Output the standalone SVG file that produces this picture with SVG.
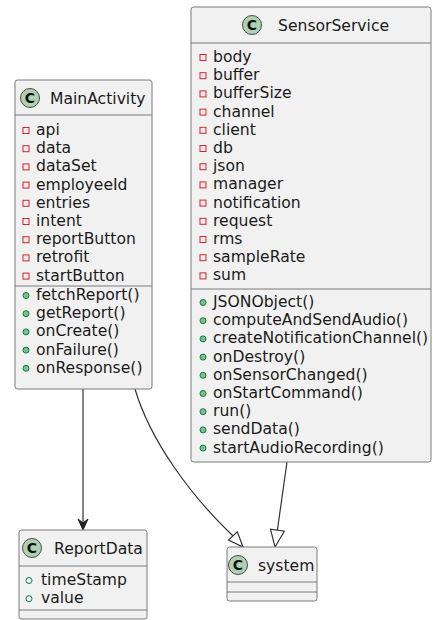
<svg xmlns="http://www.w3.org/2000/svg" width="433" height="620" viewBox="0 0 433 620">
<style>
.box{fill:#F1F1F1;stroke:#7a7a7a;stroke-width:1}
.sep{stroke:#7a7a7a;stroke-width:1}
text{font-family:"DejaVu Sans","Liberation Sans",sans-serif;font-size:15.6px;fill:#1a1a1a}
.ttl{font-size:15.6px}
.ci{fill:#ADD1B2;stroke:#4a4a4a;stroke-width:1}
.cl{font-family:"DejaVu Sans","Liberation Sans",sans-serif;font-size:14px;font-weight:bold;fill:#111}
.pr{fill:#f8e8e8;stroke:#C82930;stroke-width:1}
.pm{fill:#84BE84;stroke:#038048;stroke-width:1}
.pf{fill:none;stroke:#038048;stroke-width:1}
.edge{fill:none;stroke:#333;stroke-width:1.2}
</style>

<g id="connectors">
<path class="edge" d="M83,389 L83,527"/>
<path d="M83,530 L78,519 L83,523 L88,519 Z" fill="#222" stroke="#222" stroke-width="1"/>
<path class="edge" d="M135,389 C150,440 190,495 233,536"/>
<path d="M243,547 L237.3,531.8 L228.5,540 Z" fill="#fff" stroke="#333" stroke-width="1.2"/>
<path class="edge" d="M287,462 L277.4,530"/>
<path d="M275,547 L284.3,531.2 L270.5,529.2 Z" fill="#fff" stroke="#333" stroke-width="1.2"/>
</g>

<g id="MainActivity">
<rect class="box" x="15" y="80" width="137" height="309" rx="2.5"/>
<line class="sep" x1="15" y1="115" x2="152" y2="115"/>
<line class="sep" x1="15" y1="286" x2="152" y2="286"/>
<circle class="ci" cx="30" cy="98" r="9.5"/>
<text class="cl" x="30" y="103" text-anchor="middle">C</text>
<text class="ttl" x="50" y="103.5">MainActivity</text>
<rect class="pr" x="23" y="127.5" width="6" height="6"/><text x="36" y="135">api</text>
<rect class="pr" x="23" y="145.7" width="6" height="6"/><text x="36" y="153.2">data</text>
<rect class="pr" x="23" y="163.9" width="6" height="6"/><text x="36" y="171.4">dataSet</text>
<rect class="pr" x="23" y="182.1" width="6" height="6"/><text x="36" y="189.6">employeeId</text>
<rect class="pr" x="23" y="200.3" width="6" height="6"/><text x="36" y="207.8">entries</text>
<rect class="pr" x="23" y="218.5" width="6" height="6"/><text x="36" y="226">intent</text>
<rect class="pr" x="23" y="236.7" width="6" height="6"/><text x="36" y="244.2">reportButton</text>
<rect class="pr" x="23" y="254.9" width="6" height="6"/><text x="36" y="262.4">retrofit</text>
<rect class="pr" x="23" y="273.1" width="6" height="6"/><text x="36" y="280.6">startButton</text>
<circle class="pm" cx="26" cy="295.5" r="3"/><text x="36" y="300">fetchReport()</text>
<circle class="pm" cx="26" cy="313.7" r="3"/><text x="36" y="318.2">getReport()</text>
<circle class="pm" cx="26" cy="331.9" r="3"/><text x="36" y="336.4">onCreate()</text>
<circle class="pm" cx="26" cy="350.1" r="3"/><text x="36" y="354.6">onFailure()</text>
<circle class="pm" cx="26" cy="368.3" r="3"/><text x="36" y="372.8">onResponse()</text>
</g>

<g id="SensorService">
<rect class="box" x="191" y="7" width="240" height="455" rx="2.5"/>
<line class="sep" x1="191" y1="43" x2="431" y2="43"/>
<line class="sep" x1="191" y1="289" x2="431" y2="289"/>
<circle class="ci" cx="252" cy="25" r="9.5"/>
<text class="cl" x="252" y="30" text-anchor="middle">C</text>
<text class="ttl" x="278" y="30.5">SensorService</text>
<rect class="pr" x="200" y="54.5" width="6" height="6"/><text x="213" y="62">body</text>
<rect class="pr" x="200" y="72.7" width="6" height="6"/><text x="213" y="80.2">buffer</text>
<rect class="pr" x="200" y="90.9" width="6" height="6"/><text x="213" y="98.4">bufferSize</text>
<rect class="pr" x="200" y="109.1" width="6" height="6"/><text x="213" y="116.6">channel</text>
<rect class="pr" x="200" y="127.3" width="6" height="6"/><text x="213" y="134.8">client</text>
<rect class="pr" x="200" y="145.5" width="6" height="6"/><text x="213" y="153">db</text>
<rect class="pr" x="200" y="163.7" width="6" height="6"/><text x="213" y="171.2">json</text>
<rect class="pr" x="200" y="181.9" width="6" height="6"/><text x="213" y="189.4">manager</text>
<rect class="pr" x="200" y="200.1" width="6" height="6"/><text x="213" y="207.6">notification</text>
<rect class="pr" x="200" y="218.3" width="6" height="6"/><text x="213" y="225.8">request</text>
<rect class="pr" x="200" y="236.5" width="6" height="6"/><text x="213" y="244">rms</text>
<rect class="pr" x="200" y="254.7" width="6" height="6"/><text x="213" y="262.2">sampleRate</text>
<rect class="pr" x="200" y="272.9" width="6" height="6"/><text x="213" y="280.4">sum</text>
<circle class="pm" cx="203" cy="302.5" r="3"/><text x="213" y="307">JSONObject()</text>
<circle class="pm" cx="203" cy="320.7" r="3"/><text x="213" y="325.2">computeAndSendAudio()</text>
<circle class="pm" cx="203" cy="338.9" r="3"/><text x="213" y="343.4">createNotificationChannel()</text>
<circle class="pm" cx="203" cy="357.1" r="3"/><text x="213" y="361.6">onDestroy()</text>
<circle class="pm" cx="203" cy="375.3" r="3"/><text x="213" y="379.8">onSensorChanged()</text>
<circle class="pm" cx="203" cy="393.5" r="3"/><text x="213" y="398">onStartCommand()</text>
<circle class="pm" cx="203" cy="411.7" r="3"/><text x="213" y="416.2">run()</text>
<circle class="pm" cx="203" cy="429.9" r="3"/><text x="213" y="434.4">sendData()</text>
<circle class="pm" cx="203" cy="448.1" r="3"/><text x="213" y="452.6">startAudioRecording()</text>
</g>

<g id="ReportData">
<rect class="box" x="19" y="530" width="128" height="89" rx="2.5"/>
<line class="sep" x1="19" y1="566" x2="147" y2="566"/>
<line class="sep" x1="19" y1="610" x2="147" y2="610"/>
<circle class="ci" cx="32" cy="548" r="9.5"/>
<text class="cl" x="32" y="553" text-anchor="middle">C</text>
<text class="ttl" x="54" y="553.5">ReportData</text>
<circle class="pf" cx="29" cy="580.5" r="3"/><text x="41" y="585">timeStamp</text>
<circle class="pf" cx="29" cy="598.7" r="3"/><text x="41" y="603.2">value</text>
</g>

<g id="system">
<rect class="box" x="227" y="547" width="90" height="54" rx="2.5"/>
<line class="sep" x1="227" y1="582" x2="317" y2="582"/>
<line class="sep" x1="227" y1="592" x2="317" y2="592"/>
<circle class="ci" cx="238" cy="565" r="9.5"/>
<text class="cl" x="238" y="570" text-anchor="middle">C</text>
<text class="ttl" x="258" y="570.5">system</text>
</g>
</svg>
